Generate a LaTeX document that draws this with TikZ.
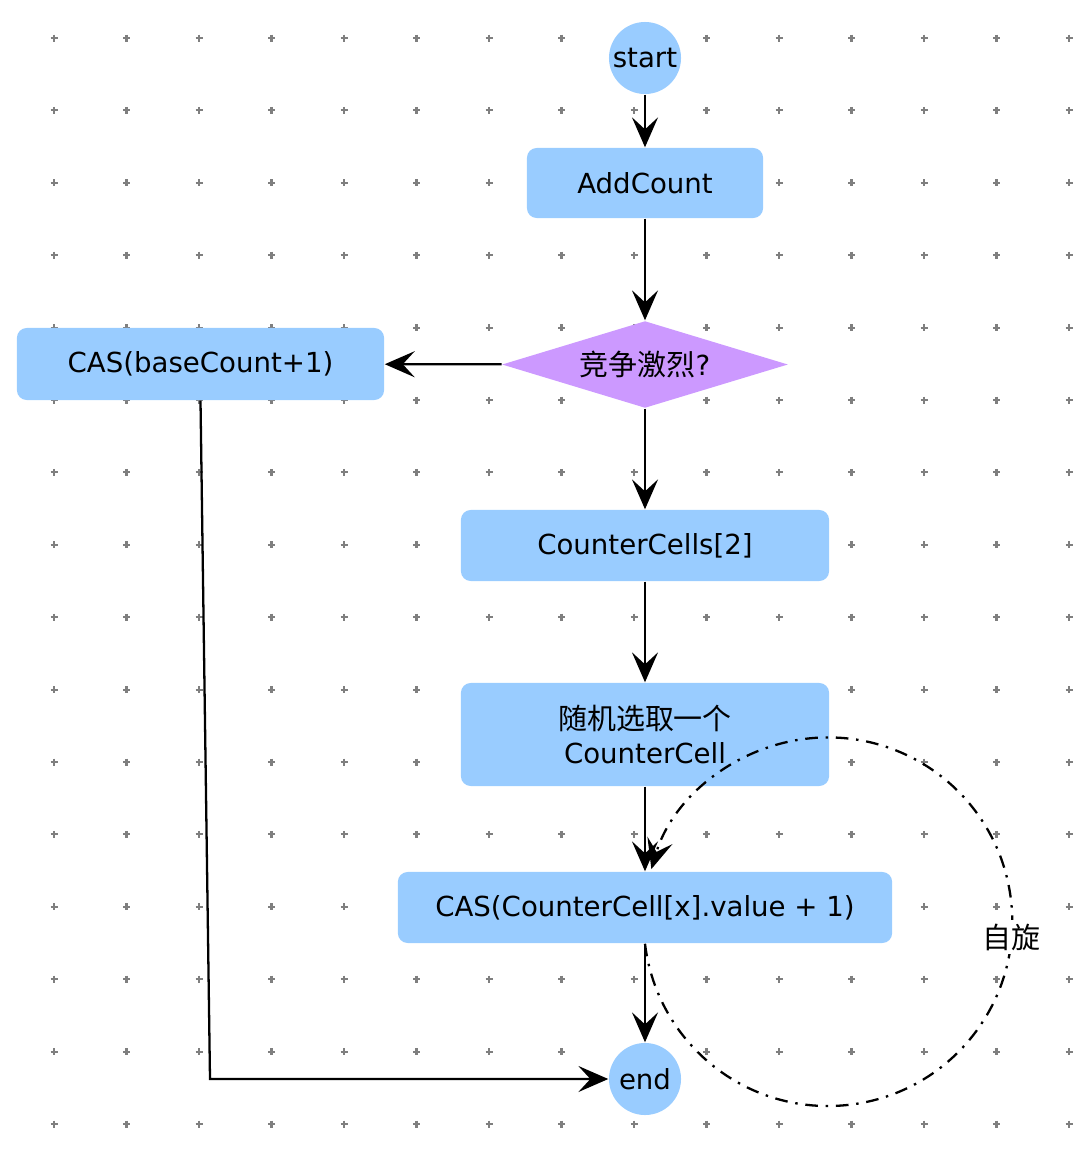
\documentclass[tikz,border=0pt]{standalone}
\usepackage{fontspec}
\setmainfont{DejaVu Sans}
\newfontfamily\cjk[Scale=1.05]{Noto Sans CJK SC}
\usepackage{tikz}
\usetikzlibrary{arrows.meta,shapes.geometric}
\usepackage{xcolor}
\definecolor{boxfill}{HTML}{99CCFF}
\definecolor{choicefill}{HTML}{CC99FF}
\definecolor{gridmark}{HTML}{7F7F7F}
\tikzset{
    gridcross/.style={
        line width=0.6pt,
        color=gridmark
    },
    flow/.style={
        -{Stealth[length=8.5pt,width=7.4pt,inset=3.4pt]},
        line width=0.65pt
    },
    spin/.style={
        -{Stealth[length=8.5pt,width=7.4pt,inset=3.4pt]},
        line width=0.65pt,
        dash pattern=on 3.6pt off 2.2pt on 0.7pt off 2.2pt
    },
    stepbox/.style={
        rectangle,
        rounded corners=2.8pt,
        fill=boxfill,
        inner sep=0pt,
        align=center,
        font=\fontsize{7.85}{9.7}\selectfont
    },
    terminal/.style={
        circle,
        fill=boxfill,
        minimum size=0.72cm,
        inner sep=0pt,
        font=\fontsize{7.85}{9.7}\selectfont
    },
    choice/.style={
        diamond,
        aspect=3.3,
        fill=choicefill,
        minimum width=2.86cm,
        minimum height=0.87cm,
        inner sep=0pt,
        font=\fontsize{7.85}{9.7}\selectfont
    },
    spinlabel/.style={
        fill=white,
        inner sep=1pt,
        font=\fontsize{7.85}{9.7}\selectfont
    }
}

\begin{document}
\begin{tikzpicture}[x=0.01cm,y=-0.01cm]

    \useasboundingbox (0,0) rectangle (1082,1154);

    % Grille
    \foreach \i in {0,...,14}
        \foreach \j in {0,...,15}
            \draw[gridcross]
                ({54+72.5*\i-3.5},{38+72.4*\j}) -- ++(7,0)
                ({54+72.5*\i},{38+72.4*\j-3.5}) -- ++(0,7);

    % Noeuds
    \node[terminal] (start) at (645,58) {start};

    \node[
        stepbox,
        minimum width=2.36cm,
        minimum height=0.70cm
    ]
        (add) at (645,183)
        {AddCount};

    \node[choice] (busy) at (645,364.5) {{\cjk 竞争激烈}?};

    \node[
        stepbox,
        minimum width=3.67cm,
        minimum height=0.72cm
    ]
        (base) at (200.5,364)
        {CAS(baseCount+1)};

    \node[
        stepbox,
        minimum width=3.68cm,
        minimum height=0.71cm
    ]
        (cells) at (645,545.5)
        {CounterCells[2]};

    \node[
        stepbox,
        minimum width=3.68cm,
        minimum height=1.03cm
    ]
        (pick) at (645,734.5)
        {{\cjk 随机选取一个}\\CounterCell};

    \node[
        stepbox,
        minimum width=4.94cm,
        minimum height=0.71cm
    ]
        (cas) at (645,907.5)
        {CAS(CounterCell[x].value + 1)};

    \node[terminal] (stop) at (645,1079) {end};

    % Fleches
    \draw[flow] (start) -- (add);
    \draw[flow] (add) -- (busy);
    \draw[flow] (busy) -- (base);
    \draw[flow] (busy) -- (cells);
    \draw[flow] (cells) -- (pick);
    \draw[flow] (pick) -- (cas);
    \draw[flow] (cas) -- (stop);

    \coordinate (bend) at (210,1079);
    \draw[flow] (base.south) -- (bend) -- (stop.west);

    % Boucle
    \draw[spin]
        (cas.south)
        arc[start angle=173.14, end angle=-163.4, radius=184.3];

    \node[spinlabel] (spintext) at (1011,937) {{\cjk 自旋}};

\end{tikzpicture}
\end{document}
